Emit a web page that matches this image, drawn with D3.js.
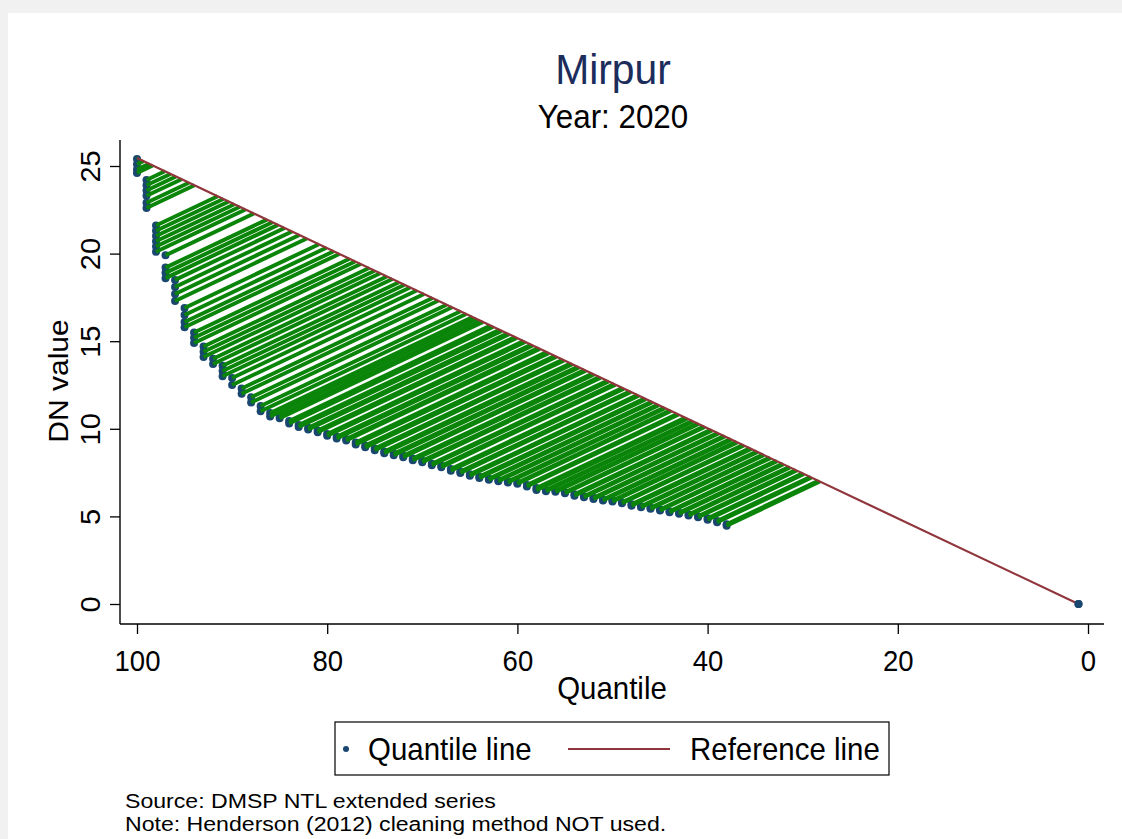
<!DOCTYPE html>
<html>
<head>
<meta charset="utf-8">
<script src="https://cdn.jsdelivr.net/npm/d3@7"></script>
<style>
  html, body { margin: 0; padding: 0; background: #f1f1f1; }
  svg { display: block; font-family: "Liberation Sans", Arial, sans-serif; }
</style>
</head>
<body>
<svg id="chart" width="1122" height="839"></svg>
<script>
// quantile plot, Mirpur 2020

const titleText = 'Mirpur';
const subtitleText = 'Year: 2020';
const xTitle = 'Quantile';
const yTitle = 'DN value';
const xTicks = [100, 80, 60, 40, 20, 0];
const yTicks = [0, 5, 10, 15, 20, 25];
const legendLabels = ['Quantile line', 'Reference line'];
const noteLines = [
  'Source: DMSP NTL extended series',
  'Note: Henderson (2012) cleaning method NOT used.'
];

// quantile points (rank, DN)
const quantile = [
  100, 100, 100, 100,
  99, 99, 99, 99, 99, 99,
  98, 98, 98, 98, 98, 98,
  97, 97, 97, 97,
  96, 96, 96, 96,
  95, 95, 95, 95,
  94, 94, 94,
  93, 93, 93,
  92, 92,
  91, 91, 91,
  90, 90,
  89, 89,
  88, 88,
  87, 87,
  86, 86,
  85, 85, 84, 84, 83, 83, 82, 82, 81, 81, 80, 80, 79, 79, 78, 78,
  77, 77, 76, 76, 75, 75, 74, 74, 73, 73, 72, 72, 71, 71, 70, 70,
  69, 69, 68, 68, 67, 67, 66, 66, 65, 65, 64, 64, 63, 63, 62, 62,
  61, 61, 60, 60, 59, 59, 58, 58, 57, 57, 56, 56, 55, 55, 54, 54,
  53, 53, 52, 52, 51, 51, 50, 50, 49, 49, 48, 48, 47, 47, 46, 46,
  45, 45, 44, 44, 43, 43, 42, 42, 41, 41, 40, 40, 39, 39, 38, 38,
  1
];
const dnValue = [
  25.4, 25.1, 24.8, 24.6,
  24.2, 23.9, 23.6, 23.3, 22.9, 22.6,
  21.6, 21.3, 21.0, 20.7, 20.4, 20.1,
  19.9, 19.2, 18.9, 18.6,
  18.5, 18.1, 17.7, 17.3,
  16.9, 16.5, 16.1, 15.8,
  15.5, 15.2, 14.9,
  14.7, 14.4, 14.1,
  14.0, 13.7,
  13.6, 13.3, 13.0,
  12.9, 12.5,
  12.3, 12.0,
  11.8, 11.5,
  11.3, 11.0,
  10.9, 10.7,
  10.75, 10.6, 10.45, 10.3, 10.22, 10.1, 10.06, 9.96, 9.9, 9.8, 9.7, 9.6, 9.55, 9.45, 9.42, 9.33,
  9.22, 9.1, 9.04, 8.94, 8.87, 8.78, 8.7, 8.6, 8.57, 8.49, 8.46, 8.38, 8.3, 8.2, 8.17, 8.09,
  8.0, 7.92, 7.89, 7.81, 7.7, 7.61, 7.56, 7.48, 7.4, 7.32, 7.27, 7.19, 7.15, 7.09, 7.07, 7.01,
  6.99, 6.93, 6.92, 6.86, 6.79, 6.71, 6.62, 6.5, 6.5, 6.44, 6.46, 6.4, 6.38, 6.32, 6.26, 6.18,
  6.15, 6.09, 6.06, 6.0, 5.97, 5.91, 5.91, 5.85, 5.81, 5.75, 5.69, 5.61, 5.58, 5.52, 5.49, 5.43,
  5.4, 5.34, 5.3, 5.24, 5.21, 5.15, 5.11, 5.05, 5.01, 4.95, 4.89, 4.81, 4.74, 4.66, 4.55, 4.47,
  0
];

// reference line end points
const refQuantile = [100, 1];
const refValue = [25.45, 0];

const navy = '#1a476f';
const maroon = '#90353b';
const green = '#0a850a';
const sx = 0.95; // the source picture is a little squeezed sideways

const svg = d3.select('#chart');

svg.append('rect')
  .attr('x', 8).attr('y', 13)
  .attr('width', 1114).attr('height', 826)
  .attr('fill', '#fff');

const x = d3.scaleLinear().domain([100, 0]).range([137, 1088]);
const y = d3.scaleLinear().domain([0, 25]).range([604, 166]);
const ref = d3.scaleLinear().domain(refQuantile).range(refValue);

const points = quantile.map((q, i) => ({ q, v: dnValue[i] }));

// text helper: horizontal squeeze like the source
function label(g, txt, px, py, size, opts = {}) {
  const k = opts.sx || sx;
  const rot = opts.rotate ? ' rotate(-90) scale(1,' + k + ')' : ' scale(' + k + ',1)';
  return g.append('text')
    .attr('transform', `translate(${px},${py})${rot}`)
    .attr('text-anchor', opts.anchor || 'middle')
    .attr('font-size', size)
    .attr('fill', opts.fill || '#000')
    .text(txt);
}

// titles
label(svg, titleText, 613, 84, 43, { fill: '#1c2d5c' });
label(svg, subtitleText, 613, 128, 33);

// axes
const xAxis = svg.append('g')
  .attr('transform', 'translate(0,624)')
  .call(d3.axisBottom(x).tickValues(xTicks).tickSize(10).tickSizeOuter(0).tickFormat(d3.format('d')));
xAxis.select('.domain').remove();
xAxis.selectAll('.tick line').attr('stroke', '#000').attr('stroke-width', 1.3);
xAxis.selectAll('.tick text').remove();
xAxis.selectAll('.tick').each(function (d) {
  label(d3.select(this), String(d), 0, 47, 29);
});
svg.append('line')
  .attr('x1', 120).attr('x2', 1104).attr('y1', 624).attr('y2', 624)
  .attr('stroke', '#000').attr('stroke-width', 1.4);

const yAxis = svg.append('g')
  .attr('transform', 'translate(120,0)')
  .call(d3.axisLeft(y).tickValues(yTicks).tickSize(10).tickSizeOuter(0));
yAxis.select('.domain').remove();
yAxis.selectAll('.tick line').attr('stroke', '#000').attr('stroke-width', 1.3);
yAxis.selectAll('.tick text').remove();
yAxis.selectAll('.tick').each(function (d) {
  label(d3.select(this), String(d), -20, 0, 29, { rotate: true });
});
svg.append('line')
  .attr('x1', 120).attr('x2', 120).attr('y1', 140).attr('y2', 624)
  .attr('stroke', '#000').attr('stroke-width', 1.4);

label(svg, xTitle, 612, 699, 31);
label(svg, yTitle, 68, 381, 30, { rotate: true });

// quantile dots
const plot = svg.append('g');
plot.selectAll('circle.pt')
  .data(points)
  .join('circle')
  .attr('class', 'pt')
  .attr('cx', d => x(d.q))
  .attr('cy', d => y(d.v))
  .attr('r', 4)
  .attr('fill', navy);

// spikes: from each point, mirrored direction of the reference line, up to it
const spikeEnd = d => {
  const qEnd = (d.q + ref.invert(d.v)) / 2;
  return { q: qEnd, v: ref(qEnd) };
};
plot.selectAll('line.spike')
  .data(points.filter(d => d.q > 1))
  .join('line')
  .attr('class', 'spike')
  .attr('x1', d => x(d.q))
  .attr('y1', d => y(d.v))
  .attr('x2', d => x(spikeEnd(d).q))
  .attr('y2', d => y(spikeEnd(d).v))
  .attr('stroke', green)
  .attr('stroke-width', 3.9);

// reference line
plot.append('path')
  .datum(refQuantile.map((q, i) => ({ q, v: refValue[i] })))
  .attr('d', d3.line().x(d => x(d.q)).y(d => y(d.v)))
  .attr('fill', 'none')
  .attr('stroke', maroon)
  .attr('stroke-width', 2.2);

plot.append('circle')
  .datum(points[points.length - 1])
  .attr('cx', d => x(d.q)).attr('cy', d => y(d.v))
  .attr('r', 4).attr('fill', navy);

// legend
const lg = svg.append('g');
lg.append('rect')
  .attr('x', 335).attr('y', 722).attr('width', 554).attr('height', 53)
  .attr('fill', '#fff').attr('stroke', '#000').attr('stroke-width', 1.2);
lg.append('circle').attr('cx', 346).attr('cy', 749).attr('r', 3).attr('fill', navy);
label(lg, legendLabels[0], 368, 760, 31, { anchor: 'start' });
lg.append('line')
  .attr('x1', 568).attr('x2', 670).attr('y1', 749).attr('y2', 749)
  .attr('stroke', maroon).attr('stroke-width', 2);
label(lg, legendLabels[1], 690, 760, 31, { anchor: 'start' });

// notes
noteLines.forEach((t, i) => {
  label(svg, t, 125, 808 + i * 23, 21, { anchor: 'start', sx: 1.1 });
});
</script>
</body>
</html>
